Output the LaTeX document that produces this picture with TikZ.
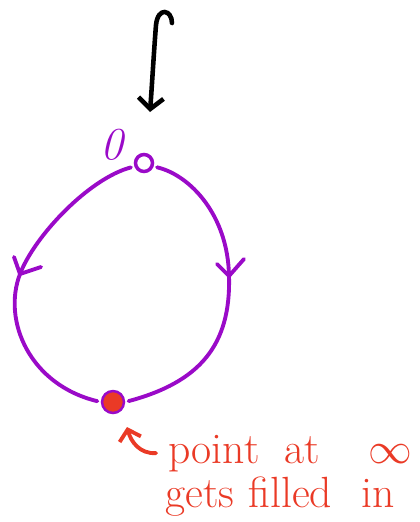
\documentclass[tikz,border=0pt]{standalone}
\usetikzlibrary{positioning, calc, arrows.meta}
\definecolor{LoopPurple}{HTML}{9A0AC8}
\definecolor{MarkRed}{HTML}{EA3A26}

\begin{document}
\begin{tikzpicture}[x=0.02cm, y=-0.02cm,
  loopline/.style={draw=LoopPurple, line width=2.2pt, line cap=round, line join=round},
  inkline/.style={draw=black, line width=2.6pt, line cap=round},
  redline/.style={draw=MarkRed, line width=2.2pt, line cap=round},
  note/.style={font=\fontsize{24.88}{30}\selectfont, text=MarkRed, anchor=base west,
    inner xsep=0.24cm, inner ysep=0pt},
]
  \useasboundingbox (0,0) rectangle (420,522);

  % base point, its label, and the point at infinity
  \node[circle, draw=LoopPurple, line width=2pt, minimum size=0.34cm, inner sep=0pt] (base) at (144,163) {};
  \node[font=\fontsize{26}{30}\selectfont\itshape, text=LoopPurple] (zero) at (112,145) {0};
  \node[circle, fill=MarkRed, draw=LoopPurple, line width=1.4pt, minimum size=0.44cm, inner sep=0pt] (infty) at (113,402) {};

  % incoming arrow
  \coordinate (hook) at (172,23);
  \coordinate (drop) at (150,112);
  \draw[inkline, -{Straight Barb[length=2.2mm, width=5mm]}]
    (hook) .. controls (172,10) and (158,6) .. (156,25)
           .. controls (154,50) and (152,85) .. (drop);

  % the loop, two halves meeting at infinity
  \coordinate (lmid) at (20,274);
  \coordinate (rmid) at (229,276);
  \draw[loopline, shorten <=2pt, shorten >=2pt]
    (base.200) .. controls (90,178) and (35,235) .. (lmid)
               .. controls (2,321) and (30,385) .. (infty.west);
  \draw[loopline, shorten <=2pt, shorten >=2pt]
    (base.-20) .. controls (190,175) and (228,215) .. (rmid)
               .. controls (231,345) and (200,382) .. (infty.east);

  % direction marks
  \draw[loopline] (lmid) ++(-6,-17) -- (lmid) -- ++(21,-7);
  \draw[loopline] (rmid) ++(-12,-12) -- (rmid) -- ++(15,-17);

  % note
  \node[note] (pt) at (156,463) {point\hspace{14pt}at\hspace{28pt}$\infty$};
  \node[note] (fill) at (153,507) {gets\hspace{8pt}filled\hspace{17pt}in};
  \coordinate (hint) at (127,427);
  \draw[redline, -{Straight Barb[length=2mm, width=4.4mm]}]
    (pt.west) .. controls (140,454) and (131,442) .. (hint);
\end{tikzpicture}
\end{document}
